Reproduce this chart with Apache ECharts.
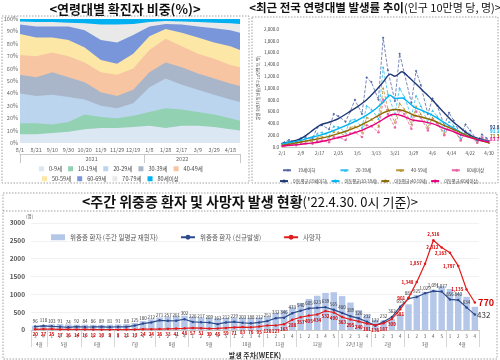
<!DOCTYPE html>
<html><head><meta charset="utf-8">
<script src="https://cdn.jsdelivr.net/npm/echarts@6/dist/echarts.min.js"></script>
<style>html,body{margin:0;padding:0;background:#fff}#c{width:500px;height:360px}</style>
</head><body><div id="c"></div>
<script>
// ===== Panel A: 연령대별 확진자 비중(%) =====
const shareBase = '2021-08-01';
const shareEnd = '2022-04-30';
const shareDates = ['2021-08-01','2021-08-21','2021-09-10','2021-09-30','2021-10-20','2021-11-09','2021-11-29','2021-12-19','2022-01-08','2022-01-28','2022-02-17','2022-03-09','2022-03-29','2022-04-18','2022-04-30'];
const shareGroups = ['0-9세','10-19세','20-29세','30-39세','40-49세','50-59세','60-69세','70-79세','80세이상'];
const share0to9   = [7, 7, 8, 9, 11, 12, 12, 13, 14, 12, 14, 14, 13, 11, 10];
const share10to19 = [9, 9, 7, 8, 12, 9, 8, 9, 11, 16, 13, 11, 10, 9, 8];
const share20to29 = [24, 22, 24, 20, 12, 9, 8, 10, 20, 24, 20, 18, 16, 15, 15];
const share30to39 = [15, 15, 18, 16, 14, 11, 10, 11, 12, 13, 14, 13, 13, 13, 13];
const share40to49 = [16, 17, 16, 17, 16, 16, 17, 17, 18, 19, 17, 16, 16, 15, 15];
const share50to59 = [17, 15, 12, 13, 12, 10, 9, 12, 11, 8, 11, 13, 13, 15, 14];
const share60to69 = [7.5, 9, 9, 11, 14, 16, 17, 15, 8, 4, 6.5, 9, 11.5, 13, 14];
const share70to79 = [2.5, 3.5, 3.5, 3, 5.5, 12.5, 14.5, 9, 3.5, 2.3, 2.5, 3.5, 4.5, 5.5, 7];
const share80plus = [2, 2.5, 2.5, 3, 3.5, 4.5, 4.5, 4, 2.5, 1.7, 2, 2.5, 3, 3.5, 4];
const shareYears = ['2021','2022'];
const shareYearBreak = '2022-01-01';

// ===== Panel B: 최근 전국 연령대별 발생률 추이 =====
const rateBase = '2022-02-01';
const rateEnd = '2022-04-30';
const rateNames = ['19세이하','20-39세','40-59세','60세이상'];
const rateAvgNames = ['이동평균(19세이하)','이동평균(20-39세)','이동평균(40-59세)','이동평균(60세이상)'];
const rateDailyDates = ['2022-02-01','2022-02-02','2022-02-04','2022-02-07','2022-02-09','2022-02-11','2022-02-14','2022-02-16','2022-02-18','2022-02-21','2022-02-23','2022-02-25','2022-02-28','2022-03-02','2022-03-04','2022-03-07','2022-03-09','2022-03-11','2022-03-14','2022-03-16','2022-03-18','2022-03-21','2022-03-23','2022-03-25','2022-03-28','2022-03-30','2022-04-01','2022-04-04','2022-04-06','2022-04-08','2022-04-11','2022-04-13','2022-04-15','2022-04-18','2022-04-20','2022-04-22','2022-04-25','2022-04-27','2022-04-29','2022-04-30'];
const rateDaily19 = [60,80,120,90,150,170,150,330,370,300,560,520,430,600,800,560,1180,1100,800,1850,1300,780,1580,1250,750,1290,1050,560,820,700,360,580,450,200,380,280,110,210,150,100];
const rateDaily20 = [50,60,100,80,140,150,130,230,250,180,350,340,250,450,470,330,700,640,480,1350,900,560,1000,850,520,870,700,420,620,520,280,430,360,150,280,220,90,170,130,91];
const rateDaily40 = [25,35,60,50,90,100,90,160,180,130,260,250,190,330,350,250,500,470,350,1000,650,420,740,640,390,690,560,330,500,420,230,360,300,120,250,190,80,150,110,71];
const rateDaily60 = [15,20,40,30,55,60,55,100,110,80,170,160,120,230,250,170,370,350,250,800,560,330,620,560,310,600,500,280,460,400,200,350,300,110,250,200,70,160,120,84];
const rateAvgDates = ['2022-02-01','2022-02-05','2022-02-09','2022-02-13','2022-02-17','2022-02-21','2022-02-25','2022-03-01','2022-03-05','2022-03-09','2022-03-13','2022-03-16','2022-03-19','2022-03-21','2022-03-24','2022-03-27','2022-03-29','2022-04-02','2022-04-06','2022-04-10','2022-04-14','2022-04-18','2022-04-22','2022-04-26','2022-04-30'];
const rateAvg19 = [57,90,142,250,368,420,482,580,680,800,963,1100,1235,1200,1275,1180,1105,950,793,620,453,320,198,140,92.8];
const rateAvg20 = [57,80,113,160,198,250,312,380,453,540,652,760,878,822,830,750,680,610,538,440,340,250,170,125,91.1];
const rateAvg40 = [28,55,85,115,142,180,227,280,340,420,510,580,623,635,623,580,538,500,453,380,312,240,170,115,71.3];
const rateAvg60 = [17,30,45,65,85,120,159,200,255,320,397,470,538,555,530,480,453,430,397,330,272,210,159,115,83.7];

// ===== Panel C: 주간 위중증 환자 및 사망자 =====
const weekLabels = ['3','4','1','2','3','4','1','2','3','4','1','2','3','4','5','1','2','3','4','1','2','3','4','5','1','2','3','4','1','2','3','4','1','2','3','4','5','1','2','3','4','1','2','3','4','1','2','3','4','5','1','2','3','4'];
const monthNames = ['4월','5월','6월','7월','8월','9월','10월','11월','12월','22년 1월','2월','3월','4월'];
const monthWeekCounts = [2,4,4,5,4,5,4,4,5,4,4,5,4];
const icuInHospital = [120,140,160,165,155,150,150,145,145,150,155,165,200,250,300,350,370,385,400,370,350,345,330,340,345,345,340,350,380,470,550,650,760,870,960,1040,1060,950,770,560,430,290,270,300,440,720,980,1070,1130,1230,1150,1030,930,650];
const icuNew = [96,118,103,91,74,92,84,86,89,81,91,88,125,180,212,271,257,261,302,226,217,209,163,212,229,203,188,212,251,332,346,473,540,605,623,639,565,480,389,326,232,122,232,362,655,881,925,1029,1091,1077,856,840,634,432];
const deaths = [20,27,25,17,16,14,16,12,10,9,8,11,13,24,24,26,33,41,48,57,51,39,45,59,71,83,76,95,126,127,163,288,357,405,434,532,490,363,295,240,181,136,187,309,581,901,1348,1857,2516,2312,2163,1797,1135,770];
const seriesC = ['위중증 환자 (주간 일평균 재원자)','위중증 환자 (신규발생)','사망자'];

// ---------- helpers ----------
const FONT = '"Noto Sans CJK KR", "Noto Sans", sans-serif';
const DAY = 864e5;
function dayOff(s, base){ return Math.round((Date.parse(s) - Date.parse(base)) / DAY); }
function md(base, off){ const d = new Date(Date.parse(base) + off * DAY); return (d.getUTCMonth()+1) + '/' + d.getUTCDate(); }
function fmt(v){ return v >= 1000 ? v.toLocaleString('en-US') : String(v); }

const shareMax = dayOff(shareEnd, shareBase);
const yearBreak = dayOff(shareYearBreak, shareBase);
const rateMax = dayOff(rateEnd, rateBase);

const shareData = [share0to9, share10to19, share20to29, share30to39, share40to49, share50to59, share60to69, share70to79, share80plus];
const shareColors = ['#dce7f4','#93d1b3','#bcd5ee','#a9b5c9','#f7c5a2','#fde7a6','#7896d9','#e9e9e9','#00b0f0'];
// cumulative tops so each band is filled from the axis and drawn bottom-group-on-top
const shareCum = shareData.map((arr, k) => arr.map((_, i) => shareData.slice(0, k + 1).reduce((s, a) => s + a[i], 0)));

const rateDaily = [rateDaily19, rateDaily20, rateDaily40, rateDaily60];
const rateAvg = [rateAvg19, rateAvg20, rateAvg40, rateAvg60];
const rateDailyColors = ['#5668a6','#35c0f2','#b8963a','#e868a8'];
const rateAvgColors = ['#1f3a78','#00b4f4','#8c6a00','#e5007e'];
const rateSymbols = ['diamond','triangle','triangle','circle'];
const endOffsets = [-14, -10, -6.5, -3];

const monthBounds = [-0.5];
const monthCenters = [];
{ let s = 0; monthWeekCounts.forEach(c => { monthCenters.push(s + (c - 1) / 2); s += c; monthBounds.push(s - 0.5); }); }

const series = [];
shareGroups.forEach((name, k) => {
  series.push({
    type: 'line', name, xAxisIndex: 0, yAxisIndex: 0, symbol: 'none', z: 20 - k,
    lineStyle: { width: 0 }, itemStyle: { color: shareColors[k] },
    areaStyle: { color: shareColors[k], opacity: 1, origin: 'start' },
    data: shareDates.map((d, i) => [dayOff(d, shareBase), Math.min(100, shareCum[k][i])])
  });
});
rateNames.forEach((name, k) => {
  series.push({
    type: 'line', name, xAxisIndex: 2, yAxisIndex: 1, symbol: rateSymbols[k], symbolSize: 2.5,
    lineStyle: { width: 0.8, type: 'dashed', color: rateDailyColors[k] }, itemStyle: { color: rateDailyColors[k] },
    data: rateDailyDates.map((d, i) => [dayOff(d, rateBase), rateDaily[k][i]]), z: 2
  });
});
rateAvgNames.forEach((name, k) => {
  series.push({
    type: 'line', name, xAxisIndex: 2, yAxisIndex: 1, symbol: 'none', smooth: 0.3,
    lineStyle: { width: 1.4, color: rateAvgColors[k] }, itemStyle: { color: rateAvgColors[k] },
    data: rateAvgDates.map((d, i) => [dayOff(d, rateBase), rateAvg[k][i]]), z: 3,
    endLabel: { show: true, fontSize: 4.5, fontWeight: 'bold', color: rateAvgColors[k], distance: 1,
      offset: [0, endOffsets[k]], formatter: p => p.value[1].toFixed(1) }
  });
});
series.push({
  type: 'bar', name: seriesC[0], xAxisIndex: 3, yAxisIndex: 2, data: icuInHospital,
  itemStyle: { color: '#b4c7e8' }, barCategoryGap: '22%'
});
series.push({
  type: 'line', name: seriesC[1], xAxisIndex: 3, yAxisIndex: 2, symbol: 'circle', symbolSize: 2.5,
  lineStyle: { width: 1.2, color: '#2e4a8c' }, itemStyle: { color: '#2e4a8c' }, z: 4,
  data: icuNew.map((v, i) => i === icuNew.length - 1
    ? { value: v, label: { position: 'right', fontSize: 8, color: '#333', distance: 1 } }
    : v),
  label: { show: true, position: 'top', distance: 2, fontSize: 4.5, color: '#333', formatter: p => fmt(p.value) }
});
const deathMax = Math.max(...deaths);
series.push({
  type: 'line', name: seriesC[2], xAxisIndex: 3, yAxisIndex: 2, symbol: 'circle', symbolSize: 2.5,
  lineStyle: { width: 1.2, color: '#e21b1b' }, itemStyle: { color: '#e21b1b' }, z: 5,
  data: deaths.map((v, i) => {
    if (i === deaths.length - 1) return { value: v, label: { position: 'right', fontSize: 9, fontWeight: 'bold', distance: 2 } };
    return { value: v, label: { position: v === deathMax ? 'top' : (v >= 800 ? 'left' : 'bottom') } };
  }),
  label: { show: true, position: 'bottom', distance: 2, fontSize: 4.5, fontWeight: 'bold', color: '#d40000', formatter: p => fmt(p.value) }
});

const smallAxisText = { fontSize: 5.5, color: '#666' };

const option = {
  animation: false,
  textStyle: { fontFamily: FONT },
  grid: [
    { left: 20, right: 260, top: 19, bottom: 217 },
    { left: 282, right: 11, top: 29, bottom: 213 },
    { left: 31, right: 21, top: 223, bottom: 29 }
  ],
  xAxis: [
    { gridIndex: 0, type: 'value', min: 0, max: shareMax, interval: 20,
      axisLine: { show: false }, axisTick: { show: false }, splitLine: { show: false },
      axisLabel: { ...smallAxisText, margin: 4, formatter: v => md(shareBase, v) } },
    { gridIndex: 0, type: 'value', min: 0, max: shareMax, position: 'bottom', offset: 11,
      axisLine: { show: true, lineStyle: { color: '#bbb', width: 0.8 } },
      axisTick: { show: true, customValues: [0, yearBreak, shareMax], length: 9, lineStyle: { color: '#bbb', width: 0.8 } },
      splitLine: { show: false },
      axisLabel: { ...smallAxisText, margin: 2, customValues: [yearBreak / 2 + 12, (yearBreak + shareMax) / 2 - 12],
        formatter: v => v < yearBreak ? shareYears[0] : shareYears[1] } },
    { gridIndex: 1, type: 'value', min: 0, max: rateMax, interval: 8,
      axisLine: { show: true, lineStyle: { color: '#999', width: 0.6 } }, axisTick: { show: false }, splitLine: { show: false },
      axisLabel: { fontSize: 4.5, color: '#444', margin: 4, formatter: v => md(rateBase, v) } },
    { gridIndex: 2, type: 'category', data: weekLabels,
      axisLine: { lineStyle: { color: '#bbb', width: 0.8 } }, axisTick: { show: false },
      axisLabel: { fontSize: 4.5, color: '#555', margin: 4, interval: 0 } },
    { gridIndex: 2, type: 'value', min: -0.5, max: weekLabels.length - 0.5, position: 'bottom',
      axisLine: { show: false }, splitLine: { show: false },
      axisTick: { show: true, customValues: monthBounds, length: 17, lineStyle: { color: '#ccc', width: 0.8 } },
      axisLabel: { fontSize: 4.5, color: '#555', margin: 12, customValues: monthCenters,
        formatter: v => monthNames[monthCenters.indexOf(v)] },
      name: '발생 주차(WEEK)', nameLocation: 'middle', nameGap: 22,
      nameTextStyle: { fontSize: 7, fontWeight: 'bold', color: '#333' } }
  ],
  yAxis: [
    { gridIndex: 0, type: 'value', min: 0, max: 100, interval: 10,
      axisLine: { show: false }, axisTick: { show: false }, splitLine: { show: false },
      axisLabel: { ...smallAxisText, margin: 2, formatter: '{value}%' } },
    { gridIndex: 1, type: 'value', min: 0, max: 2000, interval: 200,
      axisLine: { show: false }, axisTick: { show: false }, splitLine: { show: false },
      axisLabel: { fontSize: 4.5, color: '#444', margin: 3, formatter: v => v.toLocaleString('en-US', { minimumFractionDigits: 1, maximumFractionDigits: 1 }) },
      name: '일별 확진자 발생률(인구 10만명 당, 명)', nameLocation: 'middle', nameRotate: 90, nameGap: 19,
      nameTextStyle: { fontSize: 4, color: '#555' } },
    { gridIndex: 2, type: 'value', min: 0, max: 3000, interval: 500,
      axisLine: { show: false }, axisTick: { show: false },
      splitLine: { lineStyle: { color: '#eee', width: 0.8 } },
      axisLabel: { fontSize: 6.5, fontWeight: 'bold', color: '#555', margin: 6, formatter: v => String(v) },
      name: '(명)', nameLocation: 'end', nameGap: 4,
      nameTextStyle: { fontSize: 4.5, color: '#555', align: 'right', padding: [0, 2, 0, 0] } }
  ],
  legend: [
    { data: shareGroups.slice(0, 5), left: 34, top: 161, icon: 'rect', itemWidth: 5, itemHeight: 5, itemGap: 6,
      textStyle: { fontSize: 5.5, color: '#444' } },
    { data: shareGroups.slice(5), left: 37, top: 171, icon: 'rect', itemWidth: 5, itemHeight: 5, itemGap: 6,
      textStyle: { fontSize: 5.5, color: '#444' } },
    { data: rateNames, left: 277, right: 0, top: 163, itemWidth: 10, itemHeight: 4, itemGap: 24,
      textStyle: { fontSize: 4.5, color: '#444' } },
    { data: rateAvgNames, left: 274, right: 0, top: 174, itemWidth: 8, itemHeight: 4, itemGap: 3,
      textStyle: { fontSize: 4.2, color: '#444' } },
    { data: [{ name: seriesC[0], icon: 'rect' }, seriesC[1], seriesC[2]], left: 46, top: 229,
      itemWidth: 14, itemHeight: 6, itemGap: 22, textStyle: { fontSize: 6.5, color: '#555' } }
  ],
  graphic: [
    { type: 'rect', shape: { x: 2, y: 16, width: 247, height: 167 }, silent: true,
      style: { fill: 'none', stroke: '#888', lineWidth: 0.8, lineDash: [1.5, 1.5] } },
    { type: 'rect', shape: { x: 252, y: 17, width: 246, height: 166 }, silent: true,
      style: { fill: 'none', stroke: '#888', lineWidth: 0.8, lineDash: [1.5, 1.5] } },
    { type: 'rect', shape: { x: 3, y: 193, width: 494, height: 166 }, silent: true,
      style: { fill: 'none', stroke: '#888', lineWidth: 0.8, lineDash: [1.5, 1.5] } },
    { type: 'line', shape: { x1: 3, y1: 211, x2: 497, y2: 211 }, silent: true,
      style: { stroke: '#888', lineWidth: 0.8, lineDash: [1.5, 1.5] } },
    { type: 'text', x: 125, y: 9, silent: true,
      style: { text: '<연령대별 확진자 비중(%)>', fontSize: 13, fontWeight: 'bold', fontFamily: FONT, fill: '#111', align: 'center', verticalAlign: 'middle' } },
    { type: 'text', x: 375, y: 8, silent: true,
      style: { text: '{b|<최근 전국 연령대별 발생률 추이}{n|(인구 10만명 당, 명)>}', align: 'center', verticalAlign: 'middle',
        rich: { b: { fontSize: 11.5, fontWeight: 'bold', fontFamily: FONT, fill: '#111' },
                n: { fontSize: 11, fontFamily: FONT, fill: '#111' } } } },
    { type: 'text', x: 250, y: 202, silent: true,
      style: { text: '{b|<주간 위중증 환자 및 사망자 발생 현황}{n|(\'22.4.30. 0시 기준)>}', align: 'center', verticalAlign: 'middle',
        rich: { b: { fontSize: 14, fontWeight: 'bold', fontFamily: FONT, fill: '#111' },
                n: { fontSize: 13, fontFamily: FONT, fill: '#111' } } } }
  ],
  series
};
const chart = echarts.init(document.getElementById('c'));
chart.setOption(option);
</script></body></html>
